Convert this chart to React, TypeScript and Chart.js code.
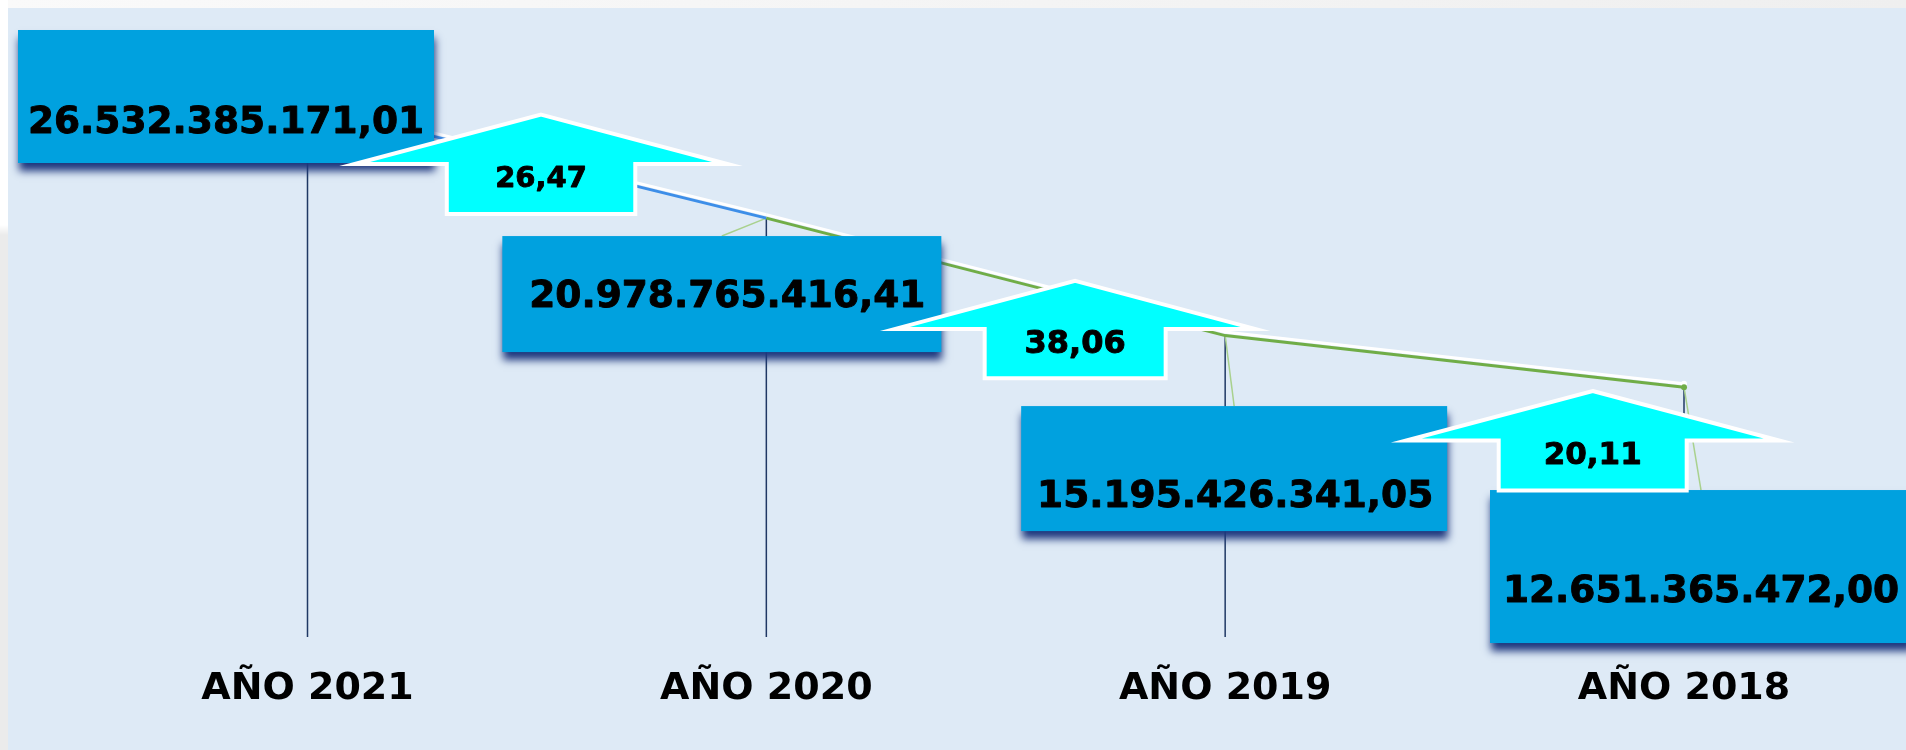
import React, { useEffect, useRef } from 'react';
import { Chart, registerables } from 'chart.js';

Chart.register(...registerables);

// ---- data ----
const YEARS = ['AÑO 2021', 'AÑO 2020', 'AÑO 2019', 'AÑO 2018'];
const AMOUNTS = [26532385171.01, 20978765416.41, 15195426341.05, 12651365472.0];
const GROWTH_PCT = [26.47, 38.06, 20.11];
const Y_MIN = 0.35e9;
const Y_MAX = 30e9;

// ---- styling / layout (relative to the data points' pixel positions) ----
const FONT = '"DejaVu Sans", Verdana, sans-serif';
const BG = '#DEEAF6';
const BOX_COLOR = '#00A1DF';
const ARROW_COLOR = '#00FFFF';
const BLUE = '#3D8EE8';
const GREEN = '#70AD47';
const LEADER = '#A9D18E';
const DROP = '#1F3864';

const BOX_LAYOUT = [
  { dx: -81.5, dy: -8.9, w: 416, h: 133, tdx: 0, tdy: 27.1 },
  { dx: -44.5, dy: 75.9, w: 439, h: 116, tdx: 5.5, tdy: 3.6 },
  { dx: 9, dy: 133, w: 426, h: 125, tdx: 1, tdy: 29.1 },
  { dx: 17, dy: 179.3, w: 422, h: 153, tdx: 0, tdy: 26.1 },
];
const ARROW_LAYOUT = [
  { dx: -225.3, dy: -103.6, span: 373, head: 49.5, stemW: 188.5, stemH: 50, tdy: 65, font: 29 },
  { dx: -150, dy: -54.7, span: 360, head: 48, stemW: 181, stemH: 49.3, tdy: 64, font: 32 },
  { dx: -91.3, dy: 3.8, span: 373, head: 49.5, stemW: 188, stemH: 50, tdy: 65.3, font: 31 },
];

const fmtAmount = (v: number) => {
  const [i, d] = v.toFixed(2).split('.');
  return i.replace(/\B(?=(\d{3})+(?!\d))/g, '.') + ',' + d;
};
const fmtPct = (v: number) => v.toFixed(2).replace('.', ',');

const heavyText = (ctx: CanvasRenderingContext2D, s: string, x: number, y: number) => {
  ctx.fillStyle = '#000000';
  ctx.strokeStyle = '#000000';
  ctx.lineWidth = 0.9;
  ctx.lineJoin = 'round';
  ctx.textAlign = 'center';
  ctx.textBaseline = 'middle';
  ctx.fillText(s, x, y);
  ctx.strokeText(s, x, y);
};

const overlayPlugin = {
  id: 'overlay',
  beforeDraw(chart: any) {
    const { ctx, width, height } = chart;
    ctx.save();
    ctx.fillStyle = BG;
    ctx.fillRect(0, 0, width, height);
    ctx.restore();
  },
  beforeDatasetsDraw(chart: any) {
    const ctx = chart.ctx;
    const meta = chart.getDatasetMeta(0);
    const bottom = chart.chartArea.bottom;
    ctx.save();
    // drop lines
    ctx.strokeStyle = DROP;
    ctx.lineWidth = 1.5;
    meta.data.forEach((pt: any) => {
      ctx.beginPath();
      ctx.moveTo(pt.x, pt.y);
      ctx.lineTo(pt.x, bottom);
      ctx.stroke();
    });
    // leader lines from point to label box
    ctx.strokeStyle = LEADER;
    ctx.lineWidth = 1.5;
    meta.data.forEach((pt: any, i: number) => {
      const L = BOX_LAYOUT[i];
      const cx = pt.x + L.dx;
      const cy = pt.y + L.dy;
      const x0 = cx - L.w / 2;
      const y0 = cy - L.h / 2;
      const inside = pt.x >= x0 && pt.x <= x0 + L.w && pt.y >= y0 && pt.y <= y0 + L.h;
      if (inside) return;
      ctx.beginPath();
      ctx.moveTo(pt.x, pt.y);
      ctx.lineTo(cx, y0);
      ctx.stroke();
    });
    ctx.restore();
  },
  beforeDatasetDraw(chart: any) {
    const ctx = chart.ctx;
    ctx.save();
    ctx.shadowColor = '#FFFFFF';
    ctx.shadowOffsetX = 0;
    ctx.shadowOffsetY = -3.5;
    ctx.shadowBlur = 0;
  },
  afterDatasetDraw(chart: any) {
    chart.ctx.restore();
  },
  afterDatasetsDraw(chart: any) {
    const ctx = chart.ctx;
    const meta = chart.getDatasetMeta(0);
    const pts = meta.data;
    // label boxes
    pts.forEach((pt: any, i: number) => {
      const L = BOX_LAYOUT[i];
      const cx = pt.x + L.dx;
      const cy = pt.y + L.dy;
      const x0 = cx - L.w / 2;
      const y0 = cy - L.h / 2;
      ctx.save();
      ctx.shadowColor = 'rgba(30,55,125,1)';
      ctx.shadowBlur = 8;
      ctx.shadowOffsetX = 1;
      ctx.shadowOffsetY = 8;
      ctx.fillStyle = BOX_COLOR;
      ctx.fillRect(x0, y0, L.w, L.h);
      ctx.restore();
      ctx.save();
      ctx.font = `bold 37.5px ${FONT}`;
      heavyText(ctx, fmtAmount(AMOUNTS[i]), cx + L.tdx, cy + L.tdy);
      ctx.restore();
    });
    // growth arrows
    GROWTH_PCT.forEach((g, i) => {
      const A = ARROW_LAYOUT[i];
      const ref = pts[i + 1];
      const tx = ref.x + A.dx;
      const ty = ref.y + A.dy;
      const wy = ty + A.head;
      const by = wy + A.stemH;
      ctx.save();
      ctx.beginPath();
      ctx.moveTo(tx, ty);
      ctx.lineTo(tx + A.span / 2, wy);
      ctx.lineTo(tx + A.stemW / 2, wy);
      ctx.lineTo(tx + A.stemW / 2, by);
      ctx.lineTo(tx - A.stemW / 2, by);
      ctx.lineTo(tx - A.stemW / 2, wy);
      ctx.lineTo(tx - A.span / 2, wy);
      ctx.closePath();
      ctx.fillStyle = ARROW_COLOR;
      ctx.fill();
      ctx.lineJoin = 'miter';
      ctx.miterLimit = 12;
      ctx.lineWidth = 4;
      ctx.strokeStyle = '#FFFFFF';
      ctx.stroke();
      ctx.font = `bold ${A.font}px ${FONT}`;
      heavyText(ctx, fmtPct(g), tx, ty + A.tdy);
      ctx.restore();
    });
  },
};

if (typeof document !== 'undefined') {
  document.documentElement.style.overflow = 'hidden';
  document.documentElement.style.background = BG;
  document.body.style.overflow = 'hidden';
}

export default function App() {
  const ref = useRef<HTMLCanvasElement | null>(null);
  useEffect(() => {
    const canvas = ref.current;
    if (!canvas) return;
    const chart = new Chart(canvas, {
      type: 'line',
      data: {
        labels: YEARS,
        datasets: [
          {
            data: AMOUNTS,
            borderWidth: 3,
            borderColor: GREEN,
            segment: {
              borderColor: (c: any) => (c.p0DataIndex === 0 ? BLUE : GREEN),
            },
            pointRadius: [0, 0, 0, 3],
            pointBackgroundColor: GREEN,
            pointBorderWidth: 0,
            tension: 0,
            fill: false,
          } as any,
        ],
      },
      options: {
        responsive: false,
        animation: false,
        layout: { padding: { top: 27, left: 299.5, right: 222, bottom: 0 } },
        plugins: { legend: { display: false }, tooltip: { enabled: false } },
        scales: {
          x: {
            grid: { display: false, drawTicks: false },
            border: { display: false },
            ticks: {
              color: '#000000',
              font: { family: FONT, size: 38, weight: 'bold' },
              padding: 29.6,
              maxRotation: 0,
              autoSkip: false,
            },
            afterFit: (s: any) => {
              s.height = 113;
            },
          } as any,
          y: { display: false, min: Y_MIN, max: Y_MAX },
        },
      },
      plugins: [overlayPlugin],
    });
    return () => chart.destroy();
  }, []);
  return (
    <>
      <div
        style={{
          position: 'fixed',
          left: 8,
          top: 8,
          right: 0,
          bottom: 0,
          overflow: 'hidden',
          background: BG,
        }}
      >
        <canvas ref={ref} width={1898} height={742} style={{ display: 'block' }} />
      </div>
      <div
        style={{
          position: 'fixed',
          left: 0,
          top: 0,
          right: 0,
          height: 8,
          background: 'linear-gradient(to right, #FAFAFA, #EFEFEF)',
        }}
      />
      <div
        style={{
          position: 'fixed',
          left: 0,
          top: 0,
          width: 8,
          bottom: 0,
          background: 'linear-gradient(to bottom, #FFFFFF 0px, #FFFFFF 225px, #EBEBEB 235px, #EBEBEB 100%)',
        }}
      />
    </>
  );
}
